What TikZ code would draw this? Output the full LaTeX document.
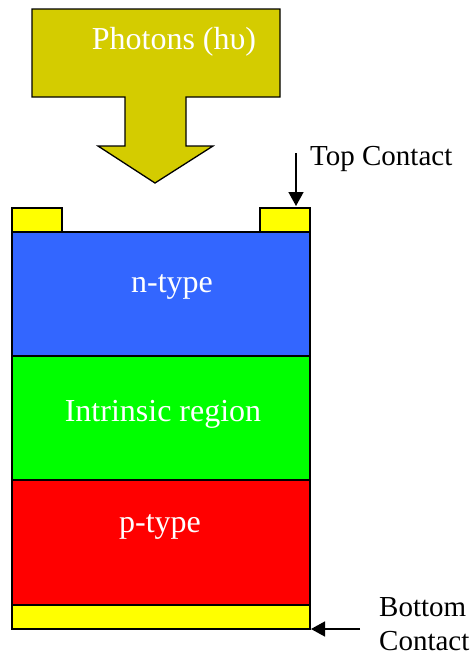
\documentclass[tikz,border=0pt]{standalone}
\usepackage{fontspec}
\setmainfont{Liberation Serif}
\usetikzlibrary{arrows.meta}
\definecolor{olivey}{RGB}{212,204,0}
\definecolor{ntype}{RGB}{51,102,255}
\definecolor{itype}{RGB}{0,255,0}
\definecolor{ptype}{RGB}{255,0,0}
\definecolor{contact}{RGB}{255,255,0}
\tikzset{
  layer/.style={draw=black, line width=1.3pt},
  inlabel/.style={text=white, font=\fontsize{32}{37}\selectfont, anchor=base, inner sep=0pt},
  sidelabel/.style={text=black, font=\fontsize{29}{34}\selectfont, anchor=base west, inner sep=0pt},
  pointer/.style={line width=1.6pt, -{Triangle[length=14pt,width=15pt]}}
}
\begin{document}
\begin{tikzpicture}[x=1pt,y=-1pt]
\useasboundingbox (0,0) rectangle (473,656);
% big photon arrow
\draw[layer, fill=olivey] (32,9) -- (280,9) -- (280,97) -- (186,97) -- (186,146) -- (213,146)
  -- (155,183) -- (98,146) -- (125,146) -- (125,97) -- (32,97) -- cycle;
\node[inlabel] (photons) at (174,49) {Photons (h\symbol{"03C5})};
% top contacts
\draw[layer, fill=contact] (12,208) rectangle (62,232);
\draw[layer, fill=contact] (260,208) rectangle (310,232);
\coordinate (tcr) at (296,206);
% layers
\draw[layer, fill=ntype] (12,232) rectangle (310,356);
\draw[layer, fill=itype] (12,356) rectangle (310,480);
\draw[layer, fill=ptype] (12,480) rectangle (310,605);
\draw[layer, fill=contact] (12,605) rectangle (310,629);
\coordinate (bc) at (311,629);
\node[inlabel] (n) at (172,292) {n-type};
\node[inlabel] (i) at (163,421) {Intrinsic region};
\node[inlabel] (p) at (160,532) {p-type};
% side labels
\node[sidelabel] (top) at (310,165) {Top Contact};
\coordinate (tstart) at (296,153);
\draw[pointer] (tstart) -- (tcr);
\node[sidelabel] (bot1) at (379,616) {Bottom};
\node[sidelabel] (bot2) at (379,650) {Contact};
\coordinate (bstart) at (360,629);
\draw[pointer] (bstart) -- (bc);
\end{tikzpicture}
\end{document}
